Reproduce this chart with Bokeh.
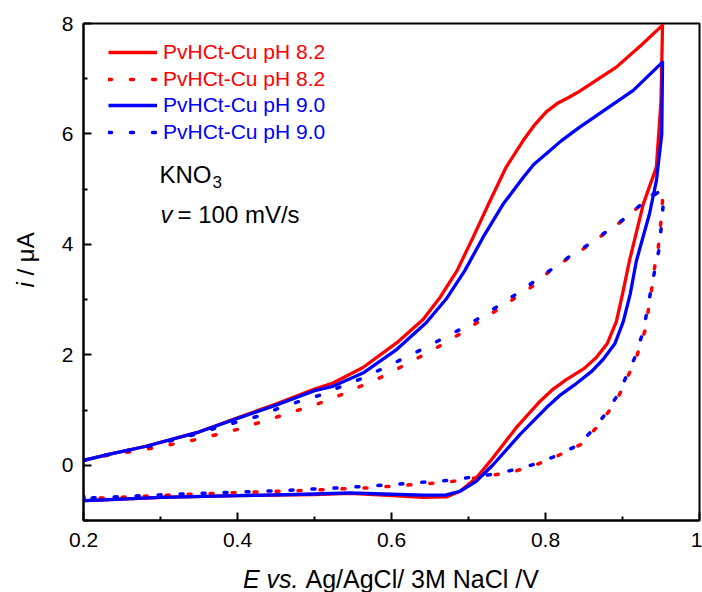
from bokeh.plotting import figure
from bokeh.models import Label, Legend, LegendItem, FixedTicker, Range1d, Title
from bokeh.embed import file_html
from bokeh.resources import INLINE

# ---- data (E in V, i in uA) ----
red_solid_E = [0.200, 0.237, 0.280, 0.347, 0.400, 0.450, 0.500, 0.524, 0.563, 0.607, 0.641, 0.663,
               0.685, 0.706, 0.728, 0.749, 0.771, 0.785, 0.801, 0.815, 0.830, 0.844, 0.892, 0.926, 0.952,
               0.950, 0.944, 0.927, 0.909, 0.900, 0.892, 0.880, 0.866, 0.850, 0.827, 0.810, 0.793,
               0.762, 0.728, 0.710, 0.689,
               0.672, 0.641, 0.589, 0.546, 0.500, 0.400, 0.300, 0.220, 0.201, 0.200]
red_solid_I = [0.09, 0.21, 0.34, 0.59, 0.86, 1.11, 1.38, 1.49, 1.77, 2.22, 2.64, 3.04,
               3.52, 4.13, 4.79, 5.40, 5.88, 6.15, 6.40, 6.55, 6.66, 6.77, 7.21, 7.63, 7.97,
               6.60, 5.40, 4.73, 3.70, 3.10, 2.60, 2.20, 1.95, 1.75, 1.55, 1.38, 1.16,
               0.68, 0.07, -0.23, -0.47,
               -0.57, -0.58, -0.54, -0.51, -0.53, -0.55, -0.58, -0.63, -0.64, -0.55]

blue_solid_E = [0.200, 0.237, 0.280, 0.347, 0.400, 0.450, 0.500, 0.524, 0.563, 0.607, 0.645, 0.671,
                0.695, 0.719, 0.745, 0.771, 0.785, 0.801, 0.820, 0.844, 0.914, 0.952,
                0.951, 0.944, 0.935, 0.918, 0.910, 0.901, 0.890, 0.875, 0.860, 0.840, 0.820, 0.801,
                0.767, 0.732, 0.710, 0.689,
                0.670, 0.641, 0.589, 0.546, 0.500, 0.400, 0.300, 0.220, 0.201, 0.200]
blue_solid_I = [0.09, 0.21, 0.34, 0.59, 0.85, 1.09, 1.35, 1.43, 1.67, 2.10, 2.58, 3.01,
                3.52, 4.13, 4.73, 5.21, 5.45, 5.64, 5.87, 6.12, 6.79, 7.30,
                6.00, 5.15, 4.55, 3.70, 3.10, 2.60, 2.20, 1.92, 1.70, 1.48, 1.28, 1.04,
                0.56, 0.01, -0.29, -0.47,
                -0.54, -0.54, -0.52, -0.50, -0.52, -0.55, -0.58, -0.63, -0.64, -0.55]

red_dot_E = [0.200, 0.235, 0.290, 0.348, 0.400, 0.455, 0.510, 0.537, 0.563, 0.589, 0.638, 0.664,
             0.689, 0.713, 0.737, 0.784, 0.809, 0.831, 0.855, 0.879, 0.903, 0.924, 0.946, 0.950,
             0.952, 0.950, 0.946, 0.942, 0.937, 0.929, 0.918, 0.907, 0.896, 0.881, 0.866, 0.845,
             0.814, 0.788, 0.762, 0.728, 0.676, 0.620, 0.568, 0.529, 0.498, 0.455, 0.326, 0.213,
             0.201, 0.200]
red_dot_I = [0.09, 0.19, 0.31, 0.47, 0.65, 0.89, 1.14, 1.29, 1.45, 1.61, 1.97, 2.17,
             2.38, 2.60, 2.81, 3.25, 3.56, 3.76, 3.97, 4.22, 4.46, 4.72, 4.99, 5.00,
             4.79, 4.43, 3.88, 3.61, 3.10, 2.43, 1.95, 1.61, 1.28, 0.95, 0.68, 0.37,
             0.16, 0.01, -0.10, -0.19, -0.30, -0.36, -0.41, -0.43, -0.45, -0.47, -0.53, -0.60,
             -0.62, -0.55]

blue_dot_E = [0.200, 0.237, 0.290, 0.345, 0.373, 0.427, 0.455, 0.481, 0.510, 0.535, 0.563, 0.612,
              0.638, 0.663, 0.689, 0.713, 0.737, 0.762, 0.809, 0.831, 0.855, 0.879, 0.903, 0.924,
              0.948, 0.952,
              0.953, 0.951, 0.947, 0.943, 0.936, 0.927, 0.916, 0.905, 0.894, 0.879, 0.864, 0.843,
              0.812, 0.786, 0.760, 0.728, 0.676, 0.620, 0.568, 0.529, 0.498, 0.455, 0.326, 0.213,
              0.201, 0.200]
blue_dot_I = [0.09, 0.21, 0.36, 0.56, 0.68, 0.89, 1.04, 1.16, 1.28, 1.43, 1.58, 1.91,
              2.09, 2.27, 2.46, 2.66, 2.87, 3.10, 3.56, 3.78, 3.99, 4.23, 4.47, 4.72,
              4.96, 4.90,
              4.75, 4.40, 3.88, 3.61, 3.10, 2.43, 1.95, 1.61, 1.28, 0.95, 0.68, 0.37,
              0.16, 0.02, -0.08, -0.17, -0.27, -0.33, -0.38, -0.41, -0.43, -0.46, -0.52, -0.59,
              -0.61, -0.53]

legend_labels = ["PvHCt-Cu pH 8.2", "PvHCt-Cu pH 8.2", "PvHCt-Cu pH 9.0", "PvHCt-Cu pH 9.0"]
x_major = [0.2, 0.4, 0.6, 0.8, 1.0]
x_minor = [0.3, 0.5, 0.7, 0.9]
y_major = [0, 2, 4, 6, 8]
y_minor = [-1, 1, 3, 5, 7]

FONT = "Liberation Sans"
RED = "#ff0000"
BLUE = "#0000ff"

p = figure(width=702, height=592, output_backend="svg", toolbar_location=None,
           x_range=Range1d(0.2, 1.0), y_range=Range1d(-1.0, 8.0),
           min_border_left=83, min_border_right=3, min_border_top=23, min_border_bottom=72,
           background_fill_color="white", border_fill_color="white")
p.grid.visible = False
p.outline_line_color = "black"
p.outline_line_width = 2

for ax in (p.xaxis[0], p.yaxis[0]):
    ax.axis_line_width = 2
    ax.axis_line_color = "black"
    ax.major_tick_in = 8
    ax.major_tick_out = 0
    ax.minor_tick_in = 4
    ax.minor_tick_out = 0
    ax.major_tick_line_width = 2
    ax.minor_tick_line_width = 2
    ax.major_label_text_font = FONT
    ax.major_label_text_font_size = "21px"
    ax.major_label_text_color = "black"
p.xaxis[0].major_label_standoff = 12
p.yaxis[0].major_label_standoff = 10

p.xaxis[0].ticker = FixedTicker(ticks=x_major, minor_ticks=x_minor)
p.yaxis[0].ticker = FixedTicker(ticks=y_major, minor_ticks=y_minor)
p.xaxis[0].major_label_overrides = {1.0: "1"}

r1 = p.line(red_solid_E, red_solid_I, line_color=RED, line_width=3.3, line_join="round")
r2 = p.line(red_dot_E, red_dot_I, line_color=RED, line_width=3.5, line_dash="3 19", line_cap="round")
r3 = p.line(blue_solid_E, blue_solid_I, line_color=BLUE, line_width=3.3, line_join="round")
r4 = p.line(blue_dot_E, blue_dot_I, line_color=BLUE, line_width=3.5, line_dash="3 19", line_cap="round")

def make_legend(items, color, loc):
    return Legend(items=items, location=loc, glyph_width=49, glyph_height=26, label_height=26,
                  label_standoff=6, spacing=1, padding=0, margin=0,
                  border_line_color=None, background_fill_alpha=0,
                  label_text_color=color, label_text_font=FONT, label_text_font_size="21px")

p.add_layout(make_legend([LegendItem(label=legend_labels[0], renderers=[r1]),
                          LegendItem(label=legend_labels[1], renderers=[r2])], RED, (25, 428)))
p.add_layout(make_legend([LegendItem(label=legend_labels[2], renderers=[r3]),
                          LegendItem(label=legend_labels[3], renderers=[r4])], BLUE, (25, 375)))

def lab(text, x, y, size, style="normal"):
    return Label(x=x, y=y, x_units="screen", y_units="screen", text=text, text_font=FONT,
                 text_font_size=size, text_font_style=style, text_baseline="alphabetic",
                 text_align="left", text_color="black")

# annotations inside the frame
p.add_layout(lab("KNO", 76, 346, "24px"))
p.add_layout(lab("3", 129, 339, "17px"))
p.add_layout(lab("v", 77, 306, "24px", "italic"))
p.add_layout(lab("= 100 mV/s", 94, 306, "24px"))

def side_title(text, style, size, align, offset, standoff, valign):
    return Title(text=text, align=align, offset=offset, standoff=standoff, vertical_align=valign,
                 text_font=FONT, text_font_size=size, text_font_style=style, text_color="black")

# x axis label (mixed italic / upright)
p.add_layout(side_title("E vs.", "italic", "25px", "right", 401, -86, "bottom"), "below")
p.add_layout(side_title("Ag/AgCl/ 3M NaCl /V", "normal", "25px", "left", 222, -86, "bottom"), "below")
# y axis label
p.add_layout(side_title("i", "italic", "24px", "left", 233, -94, "top"), "left")
p.add_layout(side_title("/ \u03bcA", "normal", "24px", "left", 245, -94, "top"), "left")

open("out.html", "w").write(file_html(p, INLINE))
